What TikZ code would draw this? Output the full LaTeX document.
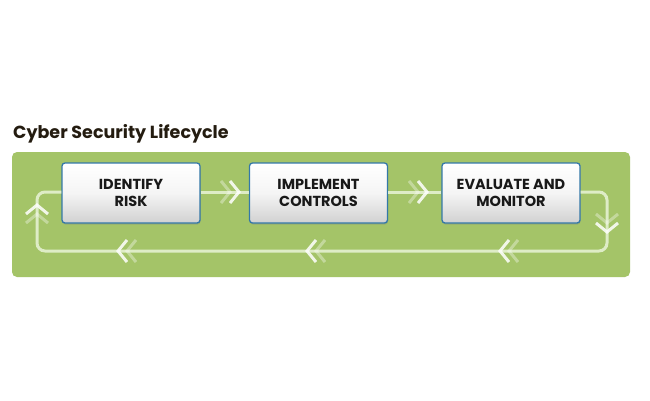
\documentclass[tikz,border=0pt]{standalone}
\usepackage{fontspec}
\setmainfont{Poppins}
\usetikzlibrary{shadows,calc}
\definecolor{panelgreen}{RGB}{164,196,104}
\definecolor{flowline}{RGB}{222,236,198}
\definecolor{boxblue}{RGB}{52,120,168}
\definecolor{titlecol}{RGB}{36,28,16}
\tikzset{
  stagebox/.style={draw=boxblue, line width=1.3pt, rounded corners=3pt,
    minimum width=138pt, minimum height=60pt, inner sep=0pt,
    top color=white, bottom color=black!18, middle color=white!96!black,
    align=center, font=\fontsize{14.5}{17.5}\selectfont\bfseries, text=black!90,
    drop shadow={opacity=0.35, shadow xshift=0.5pt, shadow yshift=-1.5pt}},
  flow/.style={draw=flowline, line width=3pt, rounded corners=8pt},
  chevstroke/.style={draw=white, line width=3pt, line join=miter},
  chev/.pic={
    \draw[chevstroke, opacity=0.35] (-18,-11) -- (-9,0) -- (-18,11);
    \draw[chevstroke, opacity=0.85] (-9,-11) -- (0,0) -- (-9,11);
  }
}
\begin{document}
\begin{tikzpicture}[x=1pt,y=-1pt]
\useasboundingbox[fill=white] (0,0) rectangle (650,400);
% title
\node[anchor=base west, inner sep=0pt, text=titlecol,
      font=\fontsize{17.5}{20}\selectfont\bfseries] (title) at (13,138.5) {Cyber Security Lifecycle};
% panel
\fill[panelgreen, rounded corners=5pt] (12,152) rectangle (630,277);
% boxes
\node[stagebox] (risk) at (131,193) {IDENTIFY\\RISK};
\node[stagebox] (impl) at (318.5,193) {IMPLEMENT\\CONTROLS};
\node[stagebox] (eval) at (511,193) {EVALUATE AND\\MONITOR};
% loop corner points
\coordinate (ne) at (607,192);
\coordinate (se) at (607,251);
\coordinate (sw) at (37,251);
\coordinate (nw) at (37,192);
% connectors
\draw[flow] (risk.east |- ne) -- (impl.west |- ne);
\draw[flow] (impl.east |- ne) -- (eval.west |- ne);
\draw[flow] (eval.east |- ne) -- (ne) -- (se) -- (sw) -- (nw) -- (risk.west |- nw);
% chevrons
\pic at (239,192) {chev};
\pic at (427,192) {chev};
\pic[rotate=-90] at (607,232) {chev};
\pic[rotate=180] at (500,251) {chev};
\pic[rotate=180] at (307,251) {chev};
\pic[rotate=180] at (118,251) {chev};
\pic[rotate=90] at (37,205) {chev};
\end{tikzpicture}
\end{document}
